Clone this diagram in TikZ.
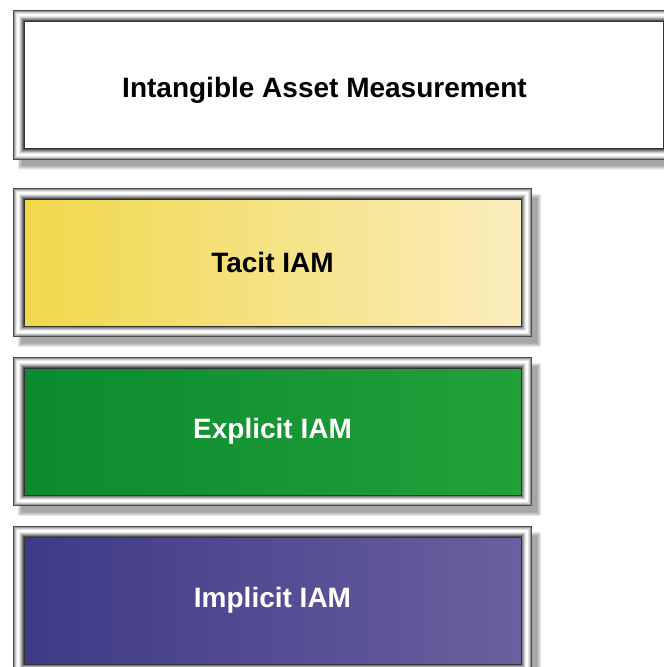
\documentclass[tikz,border=0pt]{standalone}
\usepackage{fontspec}
\setmainfont{Liberation Sans}
\usepackage{tikz}
\usetikzlibrary{shadows.blur}
\pgfdeclarelayer{background}
\pgfsetlayers{background,main}

\definecolor{tacitL}{HTML}{F0D84A}
\definecolor{tacitR}{HTML}{FAEDBE}
\definecolor{explL}{HTML}{0B8A30}
\definecolor{explR}{HTML}{22A03A}
\definecolor{implL}{HTML}{3E3A87}
\definecolor{implR}{HTML}{6A5F9F}

\tikzset{
	iamtext/.style={font=\fontsize{28}{34}\selectfont\bfseries},
	iambox/.style={rectangle, minimum width=497pt, minimum height=127pt, inner sep=0pt,
		draw=black!80, line width=0.8pt, iamtext},
	iamshadow/.style={blur shadow={shadow xshift=7pt, shadow yshift=-8pt,
		shadow blur steps=8, shadow opacity=35}},
}

% bevelled grey frame round a named box
\newcommand{\iamframe}[1]{
	\fill[black!70, iamshadow] ([shift={(-11,-11)}]#1.north west) rectangle ([shift={(11,11)}]#1.south east);
	\foreach \d/\c in {10/black!40, 9/black!22, 8/black!10, 7/white, 6/white, 5/black!8, 4/black!20, 3/black!35, 2/black!50, 1/black!68}
		{\fill[\c] ([shift={(-\d,-\d)}]#1.north west) rectangle ([shift={(\d,\d)}]#1.south east);}
}

\begin{document}
\begin{tikzpicture}[x=1pt, y=-1pt]
	\useasboundingbox (0,0) rectangle (664,667);
	\clip (0,0) rectangle (664,667);

	\node[iambox, minimum width=639pt, fill=white] (meas) at (343.5, 85) {};
	\node[iamtext, anchor=base] (title) at (324.5, 97) {Intangible Asset Measurement};
	\node[iambox, left color=tacitL, right color=tacitR] (tacit) at (272.5, 262.5) {Tacit IAM};
	\node[iambox, left color=explL, right color=explR, text=white] (expl) at (272.5, 431.5) {Explicit IAM};
	\node[iambox, left color=implL, right color=implR, text=white] (impl) at (272.5, 600.5) {Implicit IAM};

	\begin{pgfonlayer}{background}
		\foreach \b in {meas, tacit, expl, impl}
			{\iamframe{\b}}
	\end{pgfonlayer}
\end{tikzpicture}
\end{document}
